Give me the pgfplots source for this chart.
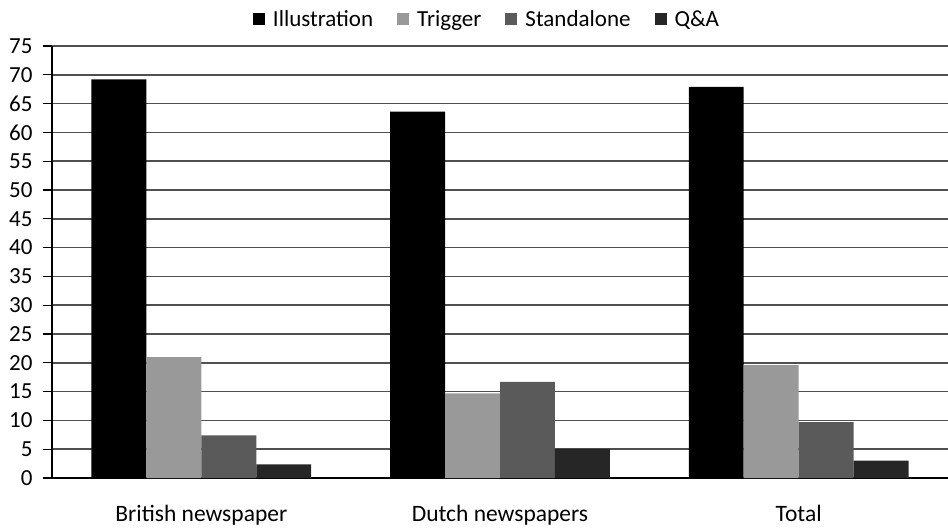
\documentclass[border=0pt]{standalone}
\usepackage{pgfplots}
\pgfplotsset{compat=1.18}
\usepackage{fontspec}
\setmainfont{Carlito}
\definecolor{cIll}{HTML}{000000}
\definecolor{cTrig}{HTML}{999999}
\definecolor{cStand}{HTML}{5A5A5A}
\definecolor{cQA}{HTML}{262626}
\definecolor{gridc}{HTML}{505050}
\begin{document}
\begin{tikzpicture}
\begin{axis}[
  scale only axis, width=896pt, height=432pt,
  ymin=0, ymax=75, ytick={0,5,...,75},
  xmin=-0.5, xmax=2.5, xtick={0,1,2},
  xticklabels={British newspaper, Dutch newspapers, Total},
  ybar=0pt, bar width=0.184,
  axis x line*=bottom, axis y line*=left,
  axis line style={black, line width=1.2pt},
  ymajorgrids, grid style={gridc, line width=1.6pt},
  tick align=outside, major tick length=9pt,
  ytick style={black, line width=1.2pt}, xtick style={draw=none},
  yticklabel style={font=\fontsize{23}{26}\selectfont, xshift=-7pt},
  xticklabel style={font=\fontsize{23.5}{27}\selectfont, yshift=-15pt},
  /pgf/number format/assume math mode=true,
  legend style={at={(0.4855,1.0625)}, anchor=center, draw=none, fill=none,
    legend columns=4, font=\fontsize{23}{26}\selectfont,
    /tikz/every odd column/.append style={column sep=6pt},
    /tikz/every even column/.append style={column sep=22pt}},
  legend image code/.code={\fill[#1] (0pt,-6pt) rectangle (12pt,6pt);},
]
\addplot[fill=cIll, draw=none] coordinates {(0,69.2) (1,63.6) (2,67.9)};
\addplot[fill=cTrig, draw=none] coordinates {(0,21.0) (1,14.7) (2,19.6)};
\addplot[fill=cStand, draw=none] coordinates {(0,7.4) (1,16.7) (2,9.7)};
\addplot[fill=cQA, draw=none] coordinates {(0,2.35) (1,5.05) (2,3.0)};
\legend{Illustration, Trigger, Standalone, Q\&A}
\end{axis}
\pgfresetboundingbox
\path[use as bounding box] (-52pt,-50pt) rectangle (896pt,478pt);
\end{tikzpicture}
\end{document}
